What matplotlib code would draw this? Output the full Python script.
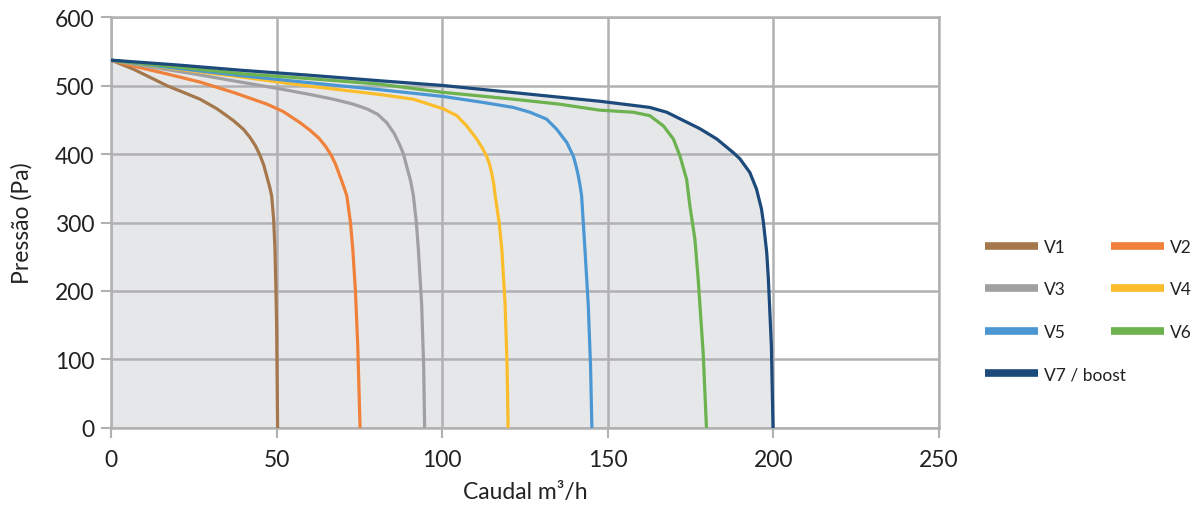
import matplotlib.pyplot as plt
from matplotlib.lines import Line2D

plt.rcParams['font.family'] = ['Lato', 'DejaVu Sans']

# curves: flow (m3/h) and pressure (Pa)
v1_x = [0, 6.7, 16.8, 26.9, 32, 36.9, 40, 42, 43.6, 45, 46.1, 47, 47.9, 48.5, 49.1, 49.5, 49.8, 50, 50.3]
v1_y = [537, 524, 500, 480, 466, 449, 436, 424, 412, 398, 384, 368, 352, 339, 305, 261, 200, 150, 0]

v2_x = [0, 8, 16.8, 26.9, 36.9, 47, 52, 57, 60, 62.8, 64.8, 66.4, 67.8, 69.1, 70.3, 71.2, 72.3, 73, 73.8, 74.5, 75.2]
v2_y = [537, 527, 517, 505, 490, 473, 462, 446, 435, 423, 411, 399, 385, 368, 352, 339, 300, 261, 200, 120, 0]

v3_x = [0, 12, 25, 38, 50, 60, 67.1, 73, 77.2, 80.5, 83.2, 85.5, 87.3, 88.3, 89, 90.5, 91.3, 92.2, 92.8,
        93.8, 94.4, 94.7]
v3_y = [537, 527, 517, 506, 496, 487, 480, 473, 466, 458, 446, 430, 412, 400, 387, 360, 339, 300, 261,
        180, 90, 0]

v4_x = [0, 20, 40, 60, 81, 91.3, 100.3, 104.4, 107.4, 110.4, 112.2, 113.4, 114.3, 114.9, 115.6, 116,
        117.2, 118, 119, 119.6, 119.9]
v4_y = [537, 524, 512, 499, 487, 480, 466, 456, 441, 422, 408, 397, 385, 373, 355, 339,
        300, 261, 180, 90, 0]

v5_x = [0, 20, 40, 60, 81, 100.3, 111.4, 121.5, 126.5, 131.5, 134.6, 137.6, 139.6, 140.4, 141.1, 141.6,
        142.1, 142.6, 143.1, 144.1, 144.8, 145.2]
v5_y = [537, 525, 514, 504, 494, 484, 476, 468, 461, 451, 436, 417, 397, 383, 368, 355,
        339, 300, 261, 180, 90, 0]

v6_x = [0, 20, 40, 60, 81, 100.3, 121.5, 135, 147.6, 157.7, 162.7, 166.8, 169.8, 171.8, 173.8, 174.8,
        176.3, 177.3, 178.8, 179.8]
v6_y = [537, 527, 517, 510, 502, 490, 480, 473, 464, 461, 456, 441, 422, 397, 363, 324,
        276, 217, 110, 0]

v7_x = [0, 20, 40, 60, 81, 100.3, 125, 147.6, 157.7, 162.7, 167.8, 172.8, 177.8, 182.9, 187.9, 189.9, 192.9,
        194.9, 196.4, 197, 198, 198.5, 199.4, 199.9]
v7_y = [537, 530, 522, 515, 507, 500, 488, 477, 471, 468, 461, 449, 437, 422, 402, 393, 373,
        349, 320, 300, 256, 217, 120, 0]

names = ['V1', 'V2', 'V3', 'V4', 'V5', 'V6', 'V7 / boost']
colors = ['#a4784c', '#f0813a', '#a0a0a2', '#fbbd2b', '#4b97d3', '#6cb24f', '#1b4a7b']
curves = [(v1_x, v1_y), (v2_x, v2_y), (v3_x, v3_y), (v4_x, v4_y),
          (v5_x, v5_y), (v6_x, v6_y), (v7_x, v7_y)]

fig = plt.figure(figsize=(12.03, 5.06), dpi=100)
ax = fig.add_axes([0.0923, 0.1522, 0.6882, 0.8122])

# grey area under the boost curve
ax.fill_between(v7_x, v7_y, 0, color='#e6e7e9', lw=0, zorder=1)

for (cx, cy), c in zip(curves, colors):
    ax.plot(cx, cy, color=c, lw=2.3, zorder=3, solid_joinstyle='round', solid_capstyle='butt')

ax.set_xlim(0, 250)
ax.set_ylim(0, 600)
ax.set_xticks(range(0, 251, 50))
ax.set_yticks(range(0, 601, 100))
ax.grid(True, color='#b1b1b3', lw=1.8, zorder=2)
ax.set_axisbelow(False)
for s in ax.spines.values():
    s.set_color('#b1b1b3')
    s.set_linewidth(1.8)
    s.set_zorder(2)
ax.tick_params(colors='#b1b1b3', width=1.5, length=7, labelsize=16.5,
               labelcolor='#222222', direction='out')
ax.tick_params(axis='x', pad=8)
ax.tick_params(axis='y', pad=5)
ax.set_xlabel('Caudal m³/h', fontsize=16.5, color='#222222', labelpad=8)
ax.set_ylabel('Pressão (Pa)', fontsize=16.5, color='#222222', labelpad=16)

handles = [Line2D([], [], color=c, lw=5.5, solid_capstyle='butt') for c in colors]
left_idx = [0, 2, 4, 6]
right_idx = [1, 3, 5]
leg_kw = dict(frameon=False, fontsize=12.5, handlelength=3.05, handletextpad=0.35,
              labelspacing=1.52, borderaxespad=0, borderpad=0, loc='upper left')
leg1 = fig.legend([handles[i] for i in left_idx], [names[i] for i in left_idx],
                  bbox_to_anchor=(985 / 1203, 1 - 240 / 506), **leg_kw)
leg2 = fig.legend([handles[i] for i in right_idx], [names[i] for i in right_idx],
                  bbox_to_anchor=(1111 / 1203, 1 - 240 / 506), **leg_kw)
for leg in (leg1, leg2):
    for t in leg.get_texts():
        t.set_color('#222222')

fig.savefig('out.png', dpi=100)
